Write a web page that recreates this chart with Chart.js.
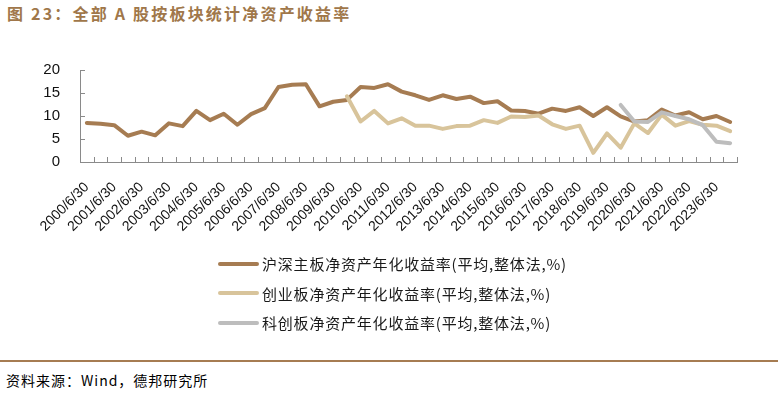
<!DOCTYPE html>
<html><head><meta charset="utf-8">
<script src="https://cdn.jsdelivr.net/npm/chart.js@4.4.1/dist/chart.umd.min.js"></script>
<style>
body{margin:0;width:782px;height:403px;background:#fff;position:relative;overflow:hidden;font-family:"Noto Sans CJK SC",sans-serif;}
#title{position:absolute;left:7px;top:3px;font-size:16px;line-height:20px;font-weight:bold;color:#A0774A;letter-spacing:2.2px;white-space:nowrap;}
#wrap{position:absolute;left:0;top:0;width:782px;height:250px;}
#legend{position:absolute;left:218px;top:249px;}
.item{height:29.5px;display:flex;align-items:center;font-size:15px;color:#1a1a1a;letter-spacing:0.8px;white-space:nowrap;}
.sw{width:41px;height:4px;border-radius:2px;margin-right:3px;}
#rule{position:absolute;left:0;top:360px;width:778px;height:2px;background:#A67C52;}
#src{position:absolute;left:6px;top:370px;font-size:14px;line-height:20px;color:#000;letter-spacing:1px;white-space:nowrap;}
</style></head>
<body>
<div id="title">图 23：全部 A 股按板块统计净资产收益率</div>
<div id="wrap"><canvas id="c"></canvas></div>
<div id="legend"></div>
<div id="rule"></div>
<div id="src">资料来源：Wind，德邦研究所</div>
<script>
const categories = [
 "2000/6/30","2000/12/31","2001/6/30","2001/12/31","2002/6/30","2002/12/31","2003/6/30","2003/12/31",
 "2004/6/30","2004/12/31","2005/6/30","2005/12/31","2006/6/30","2006/12/31","2007/6/30","2007/12/31",
 "2008/6/30","2008/12/31","2009/6/30","2009/12/31","2010/6/30","2010/12/31","2011/6/30","2011/12/31",
 "2012/6/30","2012/12/31","2013/6/30","2013/12/31","2014/6/30","2014/12/31","2015/6/30","2015/12/31",
 "2016/6/30","2016/12/31","2017/6/30","2017/12/31","2018/6/30","2018/12/31","2019/6/30","2019/12/31",
 "2020/6/30","2020/12/31","2021/6/30","2021/12/31","2022/6/30","2022/12/31","2023/6/30","2023/12/31"
];
const seriesNames = [
 "沪深主板净资产年化收益率(平均,整体法,%)",
 "创业板净资产年化收益率(平均,整体法,%)",
 "科创板净资产年化收益率(平均,整体法,%)"
];
const mainBoard = [
 8.5, 8.3, 8.0, 5.7, 6.6, 5.8, 8.4, 7.8, 11.1, 9.1, 10.5, 8.1, 10.4, 11.7, 16.3, 16.8,
 16.9, 12.1, 13.1, 13.5, 16.3, 16.1, 16.9, 15.3, 14.5, 13.5, 14.5, 13.7, 14.2, 12.8, 13.2, 11.2,
 11.1, 10.5, 11.6, 11.1, 11.9, 10.0, 11.9, 9.9, 8.8, 9.1, 11.4, 10.1, 10.8, 9.3, 10.0, 8.7
];
const chinext = [
 null,null,null,null,null,null,null,null,null,null,null,null,null,null,null,null,
 null,null,null,14.3, 8.8, 11.1, 8.4, 9.5, 7.9, 7.9, 7.2, 7.8, 7.9, 9.1, 8.5, 9.9,
 9.8, 10.1, 8.2, 7.2, 7.9, 2.0, 6.2, 3.1, 8.4, 6.3, 10.3, 7.9, 8.9, 8.1, 7.9, 6.7
];
const star = [
 null,null,null,null,null,null,null,null,null,null,null,null,null,null,null,null,
 null,null,null,null,null,null,null,null,null,null,null,null,null,null,null,null,
 null,null,null,null,null,null,null,12.4, 8.8, 8.7, 10.8, 10.0, 9.3, 8.0, 4.4, 4.1
];
const colors = ["#A67C52", "#D8C49B", "#BDBDBD"];
const yMin = 0, yMax = 20, yStep = 5;

const innerTicks = {
  id: 'innerTicks',
  afterDatasetsDraw(chart) {
    const {ctx, chartArea: a, scales: {x, y}} = chart;
    ctx.save();
    ctx.strokeStyle = '#8a8a8a';
    ctx.lineWidth = 1;
    ctx.beginPath();
    for (let i = 0; i <= categories.length; i++) {
      const px = Math.round(x.getPixelForValue(i - 0.5)) + 0.5;
      ctx.moveTo(px, a.bottom);
      ctx.lineTo(px, a.bottom - 5);
    }
    y.ticks.forEach(t => {
      const py = Math.round(y.getPixelForValue(t.value)) + 0.5;
      ctx.moveTo(a.left, py);
      ctx.lineTo(a.left + 5, py);
    });
    ctx.stroke();
    ctx.restore();
  }
};

const dsCommon = {pointRadius: 0, borderWidth: 4, tension: 0, fill: false, borderJoinStyle: 'round', borderCapStyle: 'round', spanGaps: false};
new Chart(document.getElementById('c'), {
  type: 'line',
  data: {
    labels: categories,
    datasets: [
      {...dsCommon, label: seriesNames[0], data: mainBoard, borderColor: colors[0], order: 3},
      {...dsCommon, label: seriesNames[1], data: chinext, borderColor: colors[1], order: 2},
      {...dsCommon, label: seriesNames[2], data: star, borderColor: colors[2], order: 1}
    ]
  },
  options: {
    responsive: true,
    maintainAspectRatio: false,
    animation: false,
    layout: {padding: {left: 32, right: 45, top: 70, bottom: 0}},
    plugins: {legend: {display: false}, tooltip: {enabled: false}},
    scales: {
      x: {
        type: 'category',
        offset: true,
        grid: {display: false},
        border: {display: true, color: '#8a8a8a', width: 1},
        ticks: {
          autoSkip: false, maxRotation: 45, minRotation: 45, padding: 9,
          color: '#111', font: {family: 'Liberation Sans, Arial, sans-serif', size: 14},
          callback: (v, i) => (i % 2 === 0 ? categories[i] : '')
        },
        afterFit: s => { s.height = 88; }
      },
      y: {
        min: yMin, max: yMax,
        grid: {display: false},
        border: {display: true, color: '#8a8a8a', width: 1},
        ticks: {stepSize: yStep, padding: 12, color: '#111', font: {family: 'Liberation Sans, Arial, sans-serif', size: 15}},
        afterFit: s => { s.width = 48; }
      }
    }
  },
  plugins: [innerTicks]
});

const lg = document.getElementById('legend');
seriesNames.forEach((n, i) => {
  const d = document.createElement('div');
  d.className = 'item';
  d.innerHTML = '<span class="sw" style="background:' + colors[i] + '"></span><span>' + n + '</span>';
  lg.appendChild(d);
});
</script>
</body></html>
